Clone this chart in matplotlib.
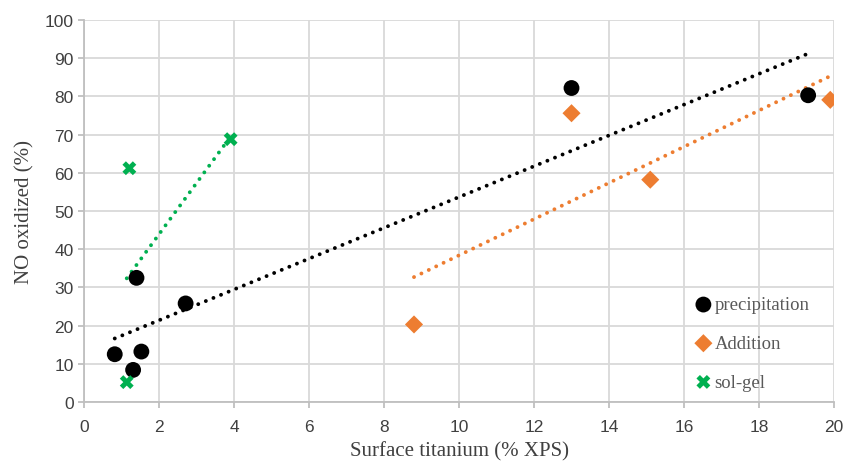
import numpy as np
import matplotlib
matplotlib.use("Agg")
import matplotlib.pyplot as plt

# data
precip_x = [0.82, 1.31, 1.53, 1.40, 2.71, 13.0, 19.31]
precip_y = [12.5, 8.4, 13.2, 32.5, 25.8, 82.2, 80.3]
add_x = [8.8, 13.0, 15.1, 19.9]
add_y = [20.3, 75.6, 58.2, 79.1]
sol_x = [1.14, 1.21, 3.91]
sol_y = [5.2, 61.2, 68.8]

series = [
    ("precipitation", precip_x, precip_y, "o", "black", 130),
    ("Addition", add_x, add_y, "D", "#ED7D31", 85),
    ("sol-gel", sol_x, sol_y, "X", "#00B050", 100),
]

fig = plt.figure(figsize=(8.45, 4.64), dpi=100)
ax = fig.add_axes([0.0994, 0.1315, 0.8876, 0.8232])

for name, x, y, mk, col, s in series:
    # linear trend line, dotted
    z = np.polyfit(x, y, 1)
    p = np.poly1d(z)
    xs = np.array([min(x), max(x)])
    ax.plot(xs, p(xs), color=col, lw=2.8, linestyle=(0, (0.01, 2.1)),
            dash_capstyle="round", zorder=2)
    ax.scatter(x, y, marker=mk, color=col, s=s, edgecolors="none",
               label=name, zorder=3)

ax.set_xlim(0, 20)
ax.set_ylim(0, 100)
ax.set_xticks(np.arange(0, 21, 2))
ax.set_yticks(np.arange(0, 101, 10))
ax.grid(True, color="#D9D9D9", lw=1.3)
ax.set_axisbelow(True)
for sp in ["top", "right"]:
    ax.spines[sp].set_visible(False)
for sp in ["left", "bottom"]:
    ax.spines[sp].set_color("#BFBFBF")
    ax.spines[sp].set_linewidth(1.3)
ax.tick_params(colors="#BFBFBF", labelcolor="#404040", labelsize=12.5,
               length=4, width=1.3)
ax.tick_params(axis="x", pad=8)
for lab in ax.get_xticklabels() + ax.get_yticklabels():
    lab.set_family("Liberation Sans")

ax.set_xlabel("Surface titanium (% XPS)", family="Liberation Serif",
              fontsize=15, color="#404040", labelpad=5)
ax.set_ylabel("NO oxidized (%)", family="Liberation Serif",
              fontsize=15, color="#404040", labelpad=7)

leg = ax.legend(loc="lower right", bbox_to_anchor=(0.99, -0.015), frameon=False,
                labelspacing=1.15, handletextpad=0.0, handlelength=1.2,
                prop={"family": "Liberation Serif", "size": 13.5})
for t in leg.get_texts():
    t.set_color("#595959")

fig.savefig("out.png", dpi=100)
